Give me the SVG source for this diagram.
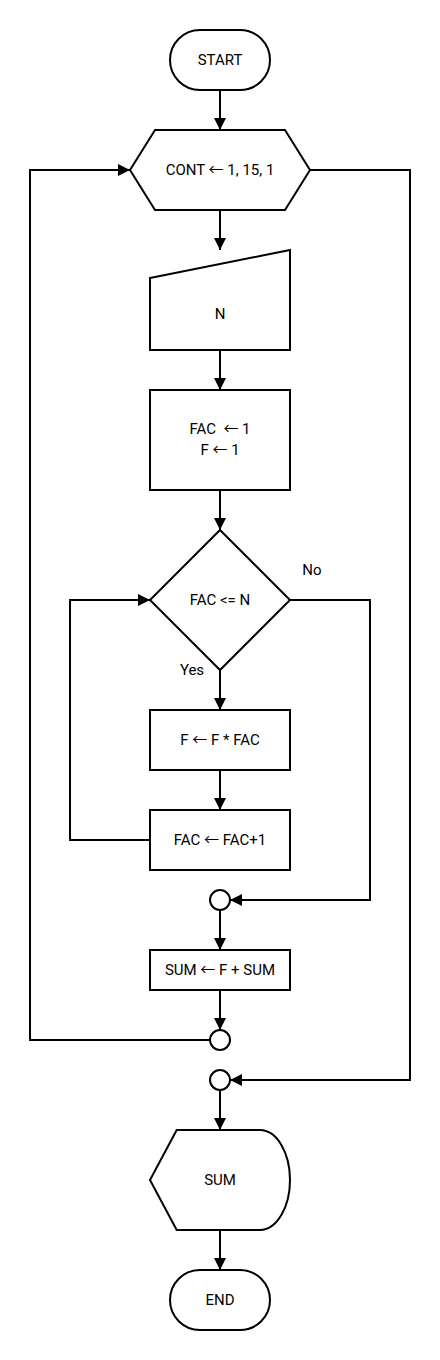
<svg xmlns="http://www.w3.org/2000/svg" width="440" height="1360" viewBox="0 0 440 1360">
<defs>
<style>
.s{fill:#fff;stroke:#000;stroke-width:2}
.c{fill:none;stroke:#000;stroke-width:2}
text{font-family:Roboto,"Noto Sans CJK SC","Liberation Sans",sans-serif;font-size:15px;fill:#000;text-anchor:middle;dominant-baseline:central}
</style>
<marker id="a" markerUnits="userSpaceOnUse" markerWidth="12" markerHeight="12" refX="12" refY="6" orient="auto">
<path d="M0,0 L12,6 L0,12 z" fill="#000"/>
</marker>
</defs>
<rect width="440" height="1360" fill="#fff"/>
<g id="connectors">
<path class="c" d="M220,90 V130" marker-end="url(#a)"/>
<path class="c" d="M220,210 V250" marker-end="url(#a)"/>
<path class="c" d="M220,350 V390" marker-end="url(#a)"/>
<path class="c" d="M220,490 V530" marker-end="url(#a)"/>
<path class="c" d="M220,670 V710" marker-end="url(#a)"/>
<path class="c" d="M220,770 V810" marker-end="url(#a)"/>
<path class="c" d="M150,840 H70 V600 H150" marker-end="url(#a)"/>
<path class="c" d="M290,600 H370 V900 H230" marker-end="url(#a)"/>
<path class="c" d="M220,910 V950" marker-end="url(#a)"/>
<path class="c" d="M220,990 V1030" marker-end="url(#a)"/>
<path class="c" d="M210,1040 H30 V170 H130" marker-end="url(#a)"/>
<path class="c" d="M310,170 H410 V1080 H230" marker-end="url(#a)"/>
<path class="c" d="M220,1090 V1130" marker-end="url(#a)"/>
<path class="c" d="M220,1230 V1270" marker-end="url(#a)"/>
<text x="312" y="570">No</text>
<text x="192" y="670">Yes</text>
</g>
<g id="start"><rect class="s" x="170" y="30" width="100" height="60" rx="30"/><text x="220" y="60">START</text></g>
<g id="loop"><path class="s" d="M130,170 L155,130 H285 L310,170 L285,210 H155 Z"/><text x="220" y="170">CONT ← 1, 15, 1</text></g>
<g id="input"><path class="s" d="M150,278 L290,250 V350 H150 Z"/><text x="220" y="314">N</text></g>
<g id="init"><rect class="s" x="150" y="390" width="140" height="100"/><text x="220" y="429" xml:space="preserve" style="white-space:pre">FAC  ← 1</text><text x="220" y="450">F ← 1</text></g>
<g id="cond"><path class="s" d="M220,530 L290,600 L220,670 L150,600 Z"/><text x="220" y="600">FAC &lt;= N</text></g>
<g id="mult"><rect class="s" x="150" y="710" width="140" height="60"/><text x="220" y="740">F ← F * FAC</text></g>
<g id="inc"><rect class="s" x="150" y="810" width="140" height="60"/><text x="220" y="840">FAC ← FAC+1</text></g>
<g id="j1"><circle class="s" cx="220" cy="900" r="10"/></g>
<g id="sum"><rect class="s" x="150" y="950" width="140" height="40"/><text x="220" y="970">SUM ← F + SUM</text></g>
<g id="j2"><circle class="s" cx="220" cy="1040" r="10"/></g>
<g id="j3"><circle class="s" cx="220" cy="1080" r="10"/></g>
<g id="display"><path class="s" d="M176.7,1130 H260 A30,50 0 0 1 260,1230 H176.7 L150,1180 Z"/><text x="220" y="1180">SUM</text></g>
<g id="end"><rect class="s" x="170" y="1270" width="100" height="60" rx="30"/><text x="220" y="1300">END</text></g>
</svg>
